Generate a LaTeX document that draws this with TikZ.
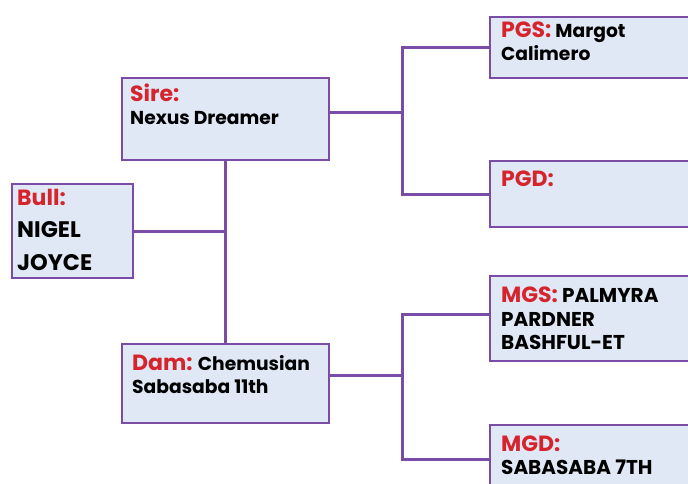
\documentclass[tikz,border=0pt]{standalone}
\usepackage{fontspec}
\setmainfont{Poppins}
\usetikzlibrary{calc}
\definecolor{linkpurple}{RGB}{122,76,166}
\definecolor{boxfill}{RGB}{224,231,245}
\definecolor{labred}{RGB}{214,36,44}
\newcommand\lab[1]{{\color{labred}\fontsize{22}{22.5}\selectfont #1}}
\tikzset{
	pedbox/.style={draw=linkpurple, fill=boxfill, line width=2pt, anchor=north west, inner sep=0pt},
	pedtext/.style={anchor=north west, inner sep=0pt, align=left, font=\bfseries\fontsize{18.7}{22.5}\selectfont},
	link/.style={draw=linkpurple, line width=3pt}
}
\begin{document}
\begin{tikzpicture}[x=1pt, y=-1pt]
		%%%%% START %%%%%
		\useasboundingbox (0, 0) rectangle (688, 484);
		\clip (0, 0) rectangle (688, 484);
		
		\node[pedbox, minimum width=121, minimum height=94] (bull) at (11, 183) {};
		\node[pedbox, minimum width=207, minimum height=82] (sire) at (121, 77) {};
		\node[pedbox, minimum width=207, minimum height=79] (dam) at (121, 343) {};
		
		\node[pedbox, minimum width=212, minimum height=61] (pgs) at (489, 16) {};
		\node[pedbox, minimum width=212, minimum height=66] (pgd) at (489, 160) {};
		\node[pedbox, minimum width=212, minimum height=85] (mgs) at (489, 275) {};
		\node[pedbox, minimum width=212, minimum height=68] (mgd) at (489, 424) {};
		
		\node[pedtext, font=\bfseries\fontsize{22.5}{32.5}\selectfont] (bull-t) at ($(bull.north west)+(6, 6)$) {\lab{Bull:}\\NIGEL\\JOYCE};
		\node[pedtext] (sire-t) at ($(sire.north west)+(9, 7)$) {\lab{Sire:}\\Nexus Dreamer};
		\node[pedtext] (dam-t) at ($(dam.north west)+(11, 12)$) {\lab{Dam:} Chemusian\\Sabasaba 11th};
		
		\node[pedtext] (pgs-t) at ($(pgs.north west)+(12, 6)$) {\lab{PGS:} Margot\\Calimero};
		\node[pedtext] (pgd-t) at ($(pgd.north west)+(12, 11)$) {\lab{PGD:}};
		\node[pedtext, font=\bfseries\fontsize{20}{23.3}\selectfont] (mgs-t) at ($(mgs.north west)+(12, 12)$) {\lab{MGS:} PALMYRA\\PARDNER\\BASHFUL-ET};
		\node[pedtext, font=\bfseries\fontsize{20}{22.5}\selectfont] (mgd-t) at ($(mgd.north west)+(12, 12)$) {\lab{MGD:}\\SABASABA 7TH};
		
		% bull to parents
		\draw[link] (sire.south) -- (dam.north);
		\draw[link] (bull.east) -- (bull.east -| sire.south);
		
		% sire side
		\draw[link] ([yshift=6pt]sire.east) -- ++(72, 0) coordinate (sire-j);
		\draw[link] (pgs.west) -| (sire-j) |- (pgd.west);
		
		% dam side
		\draw[link] ([yshift=8pt]dam.east) -- ++(72, 0) coordinate (dam-j);
		\draw[link] ([yshift=4pt]mgs.west) -| (dam-j) |- (mgd.west);
		
		%%%%% END %%%%%
\end{tikzpicture}
\end{document}
